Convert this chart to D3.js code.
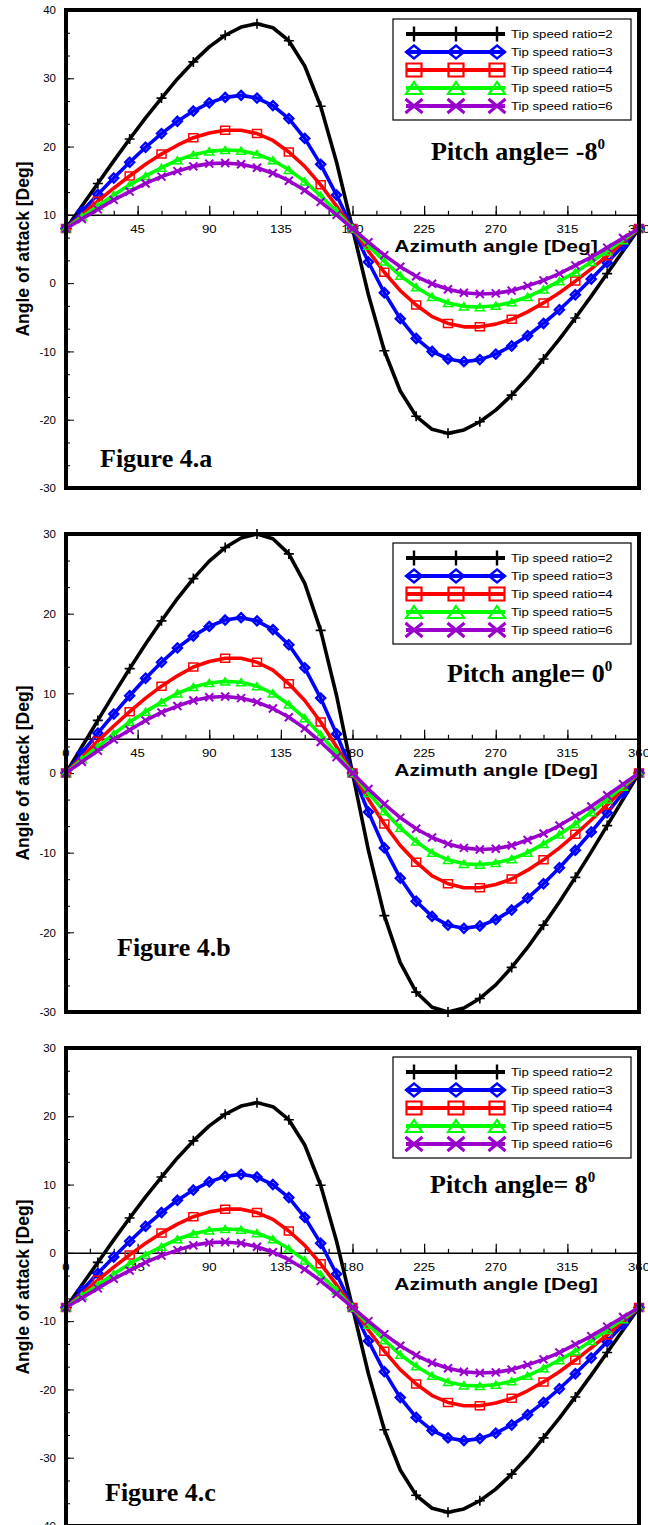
<!DOCTYPE html>
<html>
<head>
<meta charset="utf-8">
<script src="https://cdn.jsdelivr.net/npm/d3@7/dist/d3.min.js"></script>
<style>
  html, body { margin: 0; padding: 0; background: #fff; }
  svg { display: block; }
</style>
</head>
<body>
<svg id="fig" width="648" height="1525"></svg>
<script>
// Azimuth positions (deg) at which the angle of attack is tabulated
const AZIMUTH = [0,10,20,30,40,50,60,70,80,90,100,110,120,130,140,150,160,170,180,
                 190,200,210,220,230,240,250,260,270,280,290,300,310,320,330,340,350,360];

const TSR_LABELS = ["Tip speed ratio=2","Tip speed ratio=3","Tip speed ratio=4","Tip speed ratio=5","Tip speed ratio=6"];
const PITCH_VALUES = ["-8", "0", "8"];
const FIGURE_TAGS = ["Figure 4.a", "Figure 4.b", "Figure 4.c"];
const X_TICK_LABELS = [0, 45, 90, 135, 180, 225, 270, 315, 360];

// Angle of attack [deg], pitch angle = -8
const aoaNeg8Tsr2 = [8,11.3,14.6,17.9,21.1,24.2,27.1,29.9,32.4,34.6,36.3,37.5,38.0,37.4,35.5,31.8,25.9,17.7,8,-1.7,-9.9,-15.8,-19.5,-21.4,-22.0,-21.5,-20.3,-18.6,-16.4,-13.9,-11.1,-8.2,-5.1,-1.9,1.4,4.7,8];
const aoaNeg8Tsr3 = [8,10.5,13.0,15.4,17.7,19.9,21.9,23.7,25.2,26.4,27.2,27.5,27.1,26.0,24.1,21.2,17.4,12.9,8,3.1,-1.4,-5.2,-8.1,-10.0,-11.1,-11.5,-11.2,-10.4,-9.2,-7.7,-5.9,-3.9,-1.7,0.6,3.0,5.5,8];
const aoaNeg8Tsr4 = [8,10.0,12.0,13.9,15.7,17.4,18.9,20.2,21.3,22.0,22.4,22.4,21.9,20.9,19.2,17.1,14.4,11.3,8,4.7,1.6,-1.1,-3.2,-4.9,-5.9,-6.4,-6.4,-6.0,-5.3,-4.2,-2.9,-1.4,0.3,2.1,4.0,6.0,8];
const aoaNeg8Tsr5 = [8,9.7,11.3,12.9,14.4,15.7,16.9,18.0,18.8,19.3,19.5,19.4,18.9,18.0,16.6,14.9,12.8,10.5,8,5.5,3.2,1.1,-0.6,-2.0,-2.9,-3.4,-3.5,-3.3,-2.8,-2.0,-0.9,0.3,1.6,3.1,4.7,6.3,8];
const aoaNeg8Tsr6 = [8,9.4,10.8,12.2,13.4,14.6,15.6,16.4,17.1,17.5,17.6,17.4,16.9,16.1,15.0,13.6,11.9,10.0,8,6.0,4.1,2.4,1.0,-0.1,-0.9,-1.4,-1.6,-1.5,-1.1,-0.4,0.4,1.4,2.6,3.8,5.2,6.6,8];

// Angle of attack [deg], pitch angle = 0
const aoaZeroTsr2 = [0,3.3,6.6,9.9,13.1,16.2,19.1,21.9,24.4,26.6,28.3,29.5,30.0,29.4,27.5,23.8,17.9,9.7,0,-9.7,-17.9,-23.8,-27.5,-29.4,-30.0,-29.5,-28.3,-26.6,-24.4,-21.9,-19.1,-16.2,-13.1,-9.9,-6.6,-3.3,0];
const aoaZeroTsr3 = [0,2.5,5.0,7.4,9.7,11.9,13.9,15.7,17.2,18.4,19.2,19.5,19.1,18.0,16.1,13.2,9.4,4.9,0,-4.9,-9.4,-13.2,-16.1,-18.0,-19.1,-19.5,-19.2,-18.4,-17.2,-15.7,-13.9,-11.9,-9.7,-7.4,-5.0,-2.5,0];
const aoaZeroTsr4 = [0,2.0,4.0,5.9,7.7,9.4,10.9,12.2,13.3,14.0,14.4,14.4,13.9,12.9,11.2,9.1,6.4,3.3,0,-3.3,-6.4,-9.1,-11.2,-12.9,-13.9,-14.4,-14.4,-14.0,-13.3,-12.2,-10.9,-9.4,-7.7,-5.9,-4.0,-2.0,0];
const aoaZeroTsr5 = [0,1.7,3.3,4.9,6.4,7.7,8.9,10.0,10.8,11.3,11.5,11.4,10.9,10.0,8.6,6.9,4.8,2.5,0,-2.5,-4.8,-6.9,-8.6,-10.0,-10.9,-11.4,-11.5,-11.3,-10.8,-10.0,-8.9,-7.7,-6.4,-4.9,-3.3,-1.7,0];
const aoaZeroTsr6 = [0,1.4,2.8,4.2,5.4,6.6,7.6,8.4,9.1,9.5,9.6,9.4,8.9,8.1,7.0,5.6,3.9,2.0,0,-2.0,-3.9,-5.6,-7.0,-8.1,-8.9,-9.4,-9.6,-9.5,-9.1,-8.4,-7.6,-6.6,-5.4,-4.2,-2.8,-1.4,0];

// Angle of attack [deg], pitch angle = 8
const aoaPos8Tsr2 = [-8,-4.7,-1.4,1.9,5.1,8.2,11.1,13.9,16.4,18.6,20.3,21.5,22.0,21.4,19.5,15.8,9.9,1.7,-8,-17.7,-25.9,-31.8,-35.5,-37.4,-38.0,-37.5,-36.3,-34.6,-32.4,-29.9,-27.1,-24.2,-21.1,-17.9,-14.6,-11.3,-8];
const aoaPos8Tsr3 = [-8,-5.5,-3.0,-0.6,1.7,3.9,5.9,7.7,9.2,10.4,11.2,11.5,11.1,10.0,8.1,5.2,1.4,-3.1,-8,-12.9,-17.4,-21.2,-24.1,-26.0,-27.1,-27.5,-27.2,-26.4,-25.2,-23.7,-21.9,-19.9,-17.7,-15.4,-13.0,-10.5,-8];
const aoaPos8Tsr4 = [-8,-6.0,-4.0,-2.1,-0.3,1.4,2.9,4.2,5.3,6.0,6.4,6.4,5.9,4.9,3.2,1.1,-1.6,-4.7,-8,-11.3,-14.4,-17.1,-19.2,-20.9,-21.9,-22.4,-22.4,-22.0,-21.3,-20.2,-18.9,-17.4,-15.7,-13.9,-12.0,-10.0,-8];
const aoaPos8Tsr5 = [-8,-6.3,-4.7,-3.1,-1.6,-0.3,0.9,2.0,2.8,3.3,3.5,3.4,2.9,2.0,0.6,-1.1,-3.2,-5.5,-8,-10.5,-12.8,-14.9,-16.6,-18.0,-18.9,-19.4,-19.5,-19.3,-18.8,-18.0,-16.9,-15.7,-14.4,-12.9,-11.3,-9.7,-8];
const aoaPos8Tsr6 = [-8,-6.6,-5.2,-3.8,-2.6,-1.4,-0.4,0.4,1.1,1.5,1.6,1.4,0.9,0.1,-1.0,-2.4,-4.1,-6.0,-8,-10.0,-11.9,-13.6,-15.0,-16.1,-16.9,-17.4,-17.6,-17.5,-17.1,-16.4,-15.6,-14.6,-13.4,-12.2,-10.8,-9.4,-8];

const SERIES_BY_PANEL = [
  [aoaNeg8Tsr2, aoaNeg8Tsr3, aoaNeg8Tsr4, aoaNeg8Tsr5, aoaNeg8Tsr6],
  [aoaZeroTsr2, aoaZeroTsr3, aoaZeroTsr4, aoaZeroTsr5, aoaZeroTsr6],
  [aoaPos8Tsr2, aoaPos8Tsr3, aoaPos8Tsr4, aoaPos8Tsr5, aoaPos8Tsr6]
];

// ---------------------------------------------------------------- layout
const SANS = "'Liberation Sans', Arial, Helvetica, sans-serif";
const SERIF = "'Liberation Serif', 'Times New Roman', Times, serif";

const panels = [
  { top: 10,   bottom: 488,  yDomain: [-30, 40], axisAt: 10,  figX: 100, figY: 467,  pitchX: 431, pitchY: 160 },
  { top: 534,  bottom: 1012, yDomain: [-30, 30], axisAt: 4.3, figX: 117, figY: 956,  pitchX: 447, pitchY: 682 },
  { top: 1048, bottom: 1526, yDomain: [-40, 30], axisAt: 0,   figX: 105, figY: 1501, pitchX: 430, pitchY: 1193 }
];

const styles = [
  { color: "#000000", kind: "plus",     step: 2, pm: [5, 5],     lm: [0.5, 7.5], mw: 1.6, lmw: 2.4 },
  { color: "#0000ff", kind: "diamond",  step: 1, pm: [4.5, 4.5], lm: [8, 6.5],   mw: 2.4, lmw: 2.4 },
  { color: "#ff0000", kind: "square",   step: 2, pm: [4.5, 4],   lm: [7.5, 6.5], mw: 1.5, lmw: 2.2 },
  { color: "#00ff00", kind: "triangle", step: 1, pm: [4.5, 3.6], lm: [8, 6],     mw: 1.5, lmw: 2.2 },
  { color: "#9900cc", kind: "cross",    step: 1, pm: [4, 4],     lm: [8.5, 7],   mw: 2,   lmw: 3 }
];

function markerPath(kind, w, h) {
  switch (kind) {
    case "plus":     return `M${-w},0H${w}M0,${-h}V${h}`;
    case "diamond":  return `M0,${-h}L${w},0L0,${h}L${-w},0Z`;
    case "square":   return `M${-w},${-h}H${w}V${h}H${-w}Z`;
    case "triangle": return `M0,${-h}L${w},${h}H${-w}Z`;
    case "cross":    return `M${-w},${-h}L${w},${h}M${-w},${h}L${w},${-h}`;
  }
}

function label(g, px, py, str, o) {
  return g.append("text")
    .attr("transform", `translate(${px},${py}) scale(${o.sx || 1},1)`)
    .attr("font-family", o.family || SANS)
    .attr("font-size", o.size)
    .attr("font-weight", o.weight || "normal")
    .attr("text-anchor", o.anchor || "start")
    .attr("fill", "#000")
    .text(str);
}

const svg = d3.select("#fig");
const x = d3.scaleLinear().domain([0, 360]).range([66, 639]);

panels.forEach((p, pi) => {
  const g = svg.append("g");
  const y = d3.scaleLinear().domain(p.yDomain).range([p.bottom, p.top]);
  const axisY = y(p.axisAt);

  // y axis ticks (inside the frame) and labels
  const majorY = d3.range(p.yDomain[0], p.yDomain[1] + 0.1, 10);
  const minorY = d3.range(p.yDomain[0], p.yDomain[1] + 0.1, 10 / 3);
  const yMinor = g.append("g").attr("transform", "translate(66,0)")
    .call(d3.axisRight(y).tickValues(minorY).tickSize(4).tickFormat(""));
  const yMajor = g.append("g").attr("transform", "translate(66,0)")
    .call(d3.axisRight(y).tickValues(majorY).tickSize(8).tickFormat(""));
  [yMinor, yMajor].forEach(a => { a.select(".domain").remove(); a.selectAll("line").attr("stroke", "#000").attr("stroke-width", 1); });
  const yLab = g.append("g").attr("transform", "translate(56,0)")
    .call(d3.axisLeft(y).tickValues(majorY).tickSize(0).tickPadding(0).tickFormat(d => String(d)));
  yLab.select(".domain").remove();
  yLab.selectAll("text").attr("font-family", SANS).attr("font-size", 11.5).attr("fill", "#000");

  // y axis title
  g.append("text")
    .attr("transform", `translate(28.5,${(p.top + p.bottom) / 2}) rotate(-90)`)
    .attr("font-family", SANS).attr("font-size", 17.5).attr("font-weight", "bold")
    .attr("text-anchor", "middle").attr("fill", "#000")
    .text("Angle of attack [Deg]");

  // x axis drawn across the plot
  const xMinor = g.append("g").attr("transform", `translate(0,${axisY})`)
    .call(d3.axisTop(x).tickValues(d3.range(0, 361, 15)).tickSize(4).tickSizeOuter(0).tickFormat(""));
  const xMajor = g.append("g").attr("transform", `translate(0,${axisY})`)
    .call(d3.axisTop(x).tickValues(d3.range(0, 361, 45)).tickSize(9).tickSizeOuter(0).tickFormat(""));
  xMajor.select(".domain").remove();
  xMinor.select(".domain").attr("stroke", "#000").attr("stroke-width", 1.5);
  [xMinor, xMajor].forEach(a => a.selectAll("line").attr("stroke", "#000").attr("stroke-width", 1.2));

  X_TICK_LABELS.forEach(v => label(g, x(v), axisY + 18, String(v), { size: 11, sx: 1.2, anchor: "middle" }));
  label(g, 496, axisY + 37, "Azimuth angle [Deg]", { size: 17, weight: "bold", sx: 1.24, anchor: "middle" });

  // curves and markers
  const line = d3.line().x((d, i) => x(AZIMUTH[i])).y(d => y(d));
  SERIES_BY_PANEL[pi].forEach((vals, si) => {
    const st = styles[si];
    g.append("path").attr("d", line(vals))
      .attr("fill", "none").attr("stroke", st.color).attr("stroke-width", 3.6)
      .attr("stroke-linejoin", "round").attr("stroke-linecap", "round");
    g.append("g").selectAll("path")
      .data(vals.map((v, i) => ({ v, a: AZIMUTH[i], i })).filter(d => d.i % st.step === 0))
      .join("path")
      .attr("transform", d => `translate(${x(d.a)},${y(d.v)})`)
      .attr("d", markerPath(st.kind, st.pm[0], st.pm[1]))
      .attr("fill", "none").attr("stroke", st.color).attr("stroke-width", st.mw);
  });

  // legend
  const lg = g.append("g").attr("transform", `translate(393,${p.top + 9})`);
  lg.append("rect").attr("width", 238).attr("height", 101)
    .attr("fill", "#fff").attr("stroke", "#000").attr("stroke-width", 1.2);
  TSR_LABELS.forEach((t, si) => {
    const st = styles[si];
    const ry = 15 + si * 18;
    lg.append("line").attr("x1", 13).attr("x2", 112).attr("y1", ry).attr("y2", ry)
      .attr("stroke", st.color).attr("stroke-width", 4);
    [21, 63, 104].forEach(mx => {
      lg.append("path").attr("transform", `translate(${mx},${ry})`)
        .attr("d", markerPath(st.kind, st.lm[0], st.lm[1]))
        .attr("fill", "none").attr("stroke", st.color).attr("stroke-width", st.lmw);
    });
    label(lg, 118, ry + 4, t, { size: 11, sx: 1.2 });
  });

  // pitch annotation with superscript degree mark
  const pt = g.append("text").attr("x", p.pitchX).attr("y", p.pitchY)
    .attr("font-family", SERIF).attr("font-size", 26).attr("font-weight", "bold").attr("fill", "#000")
    .text("Pitch angle= " + PITCH_VALUES[pi]);
  pt.append("tspan").attr("dy", -11).attr("font-size", 15).text("0");

  label(g, p.figX, p.figY, FIGURE_TAGS[pi], { size: 26, weight: "bold", family: SERIF });

  // heavy frame
  g.append("rect").attr("x", 66).attr("y", p.top).attr("width", 639 - 66).attr("height", p.bottom - p.top)
    .attr("fill", "none").attr("stroke", "#000").attr("stroke-width", 4);
});
</script>
</body>
</html>
